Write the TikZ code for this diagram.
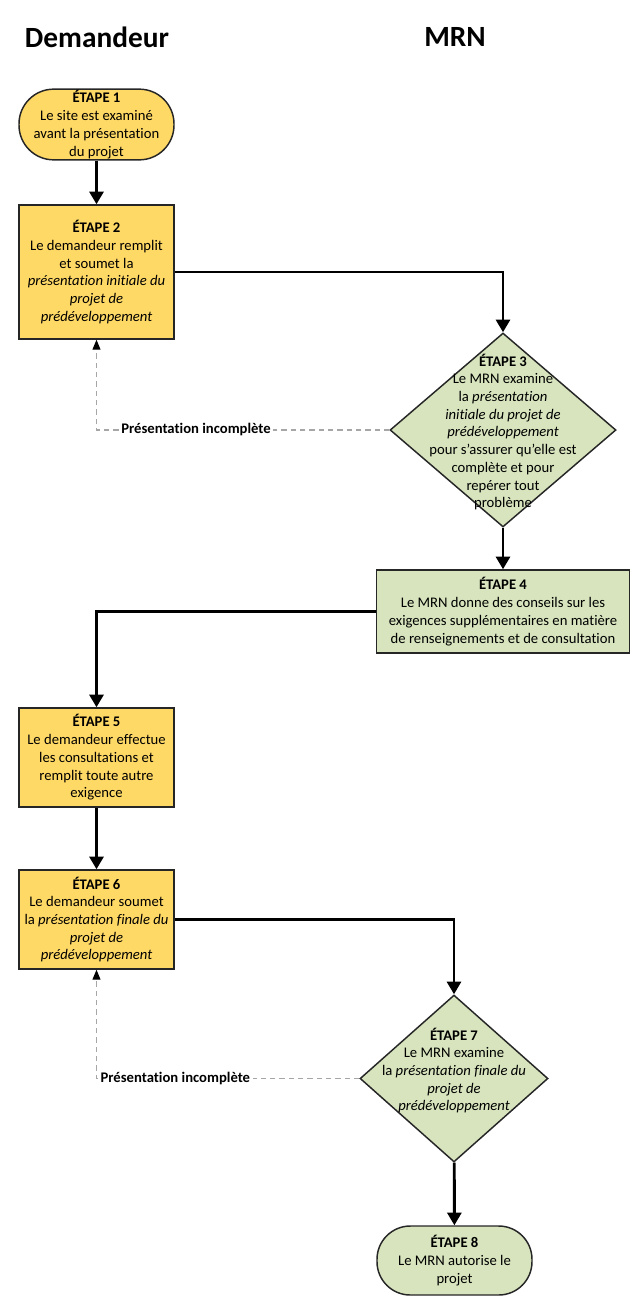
\documentclass[tikz,border=0pt]{standalone}
\usepackage{fontspec}
\setmainfont{Carlito}[Ligatures=NoCommon]
\usetikzlibrary{calc,positioning,shapes.geometric,arrows.meta}

\begin{document}
\begin{tikzpicture}[
            x=0.75pt,y=-0.75pt,
            node distance=3mm,
            txt/.style={font=\fontsize{11}{13.3}\selectfont,align=center,inner sep=1pt},
            stepbox/.style={txt,draw=black!85,line width=1.1pt,minimum width=116.25pt},
            flow/.style={line width=2.2pt,-{Triangle[width=10.5pt,length=9.5pt]}},
            retour/.style={draw=black!35,line width=0.8pt,dash pattern=on 4pt off 3pt,-{Triangle[width=6pt,length=7.5pt,color=black]}},
            incomp/.style={txt,font=\fontsize{11}{13.3}\selectfont\bfseries,fill=white,inner sep=2pt}
        ]
            \definecolor{jnx}{HTML}{FFD966}
            \definecolor{vrx}{HTML}{D7E4BD}

            \useasboundingbox (0,0) rectangle (640,1306);

            \node (hd) at (97,37)  [font=\fontsize{22}{26}\selectfont\bfseries] {Demandeur};
            \node (hm) at (455,37) [font=\fontsize{22}{26}\selectfont\bfseries] {MRN};

            \begin{scope}[every node/.append style={fill=jnx}]
                \node (s1) at (96.5,124.5) [stepbox,minimum height=52.5pt,rounded corners=26pt]
                    {\textbf{ÉTAPE 1}\\Le site est examiné\\avant la présentation\\du projet};
                \node (s2) at (96.5,272) [stepbox,minimum height=100.5pt]
                    {\textbf{ÉTAPE 2}\\Le demandeur remplit\\et soumet la\\\textit{présentation initiale du}\\\textit{projet de}\\\textit{prédéveloppement}};
                \node (s5) at (96.5,757.5) [stepbox,minimum height=74.25pt]
                    {\textbf{ÉTAPE 5}\\Le demandeur effectue\\les consultations et\\remplit toute autre\\exigence};
                \node (s6) at (96.5,919.5) [stepbox,minimum height=74.25pt]
                    {\textbf{ÉTAPE 6}\\Le demandeur soumet\\la \textit{présentation finale du}\\\textit{projet de}\\\textit{prédéveloppement}};
            \end{scope}

            \begin{scope}[every node/.append style={fill=vrx}]
                \node (s3) at (503,430) [diamond,draw=black!85,line width=1.1pt,inner sep=0pt,minimum width=169.5pt,minimum height=145.5pt] {};
                \node (s4) at (503,611.5) [stepbox,minimum width=189.75pt,minimum height=62.25pt]
                    {\textbf{ÉTAPE 4}\\Le MRN donne des conseils sur les\\exigences supplémentaires en matière\\de renseignements et de consultation};
                \node (s7) at (454,1078.5) [diamond,draw=black!85,line width=1.1pt,inner sep=0pt,minimum width=141pt,minimum height=125.25pt] {};
                \node (s8) at (454.5,1260.5) [stepbox,minimum height=51.75pt,rounded corners=25pt]
                    {\textbf{ÉTAPE 8}\\Le MRN autorise le\\projet};
            \end{scope}
            \node (t3) at ($(s3)+(0,2)$) [txt]
                {\textbf{ÉTAPE 3}\\Le MRN examine\\la \textit{présentation}\\\textit{initiale du projet de}\\\textit{prédéveloppement}\\pour s’assurer qu’elle est\\complète et pour\\repérer tout\\problème};
            \node (t7) at ($(s7)+(0,-8)$) [txt]
                {\textbf{ÉTAPE 7}\\Le MRN examine\\la \textit{présentation finale du}\\\textit{projet de}\\\textit{prédéveloppement}};

            \draw [flow] (s1) -- (s2);
            \draw [flow] (s2.east) -| (s3.north);
            \draw [flow] (s3) -- (s4);
            \draw [flow] (s4.west) -| (s5.north);
            \draw [flow] (s5) -- (s6);
            \draw [flow] (s6.east) -| (s7.north);
            \draw [flow] (s7) -- (s8);

            \draw [retour] (s3.west) -- node[incomp,pos=0.66] {Présentation incomplète} (s3.west -| s2) -- (s2.south);
            \draw [retour] (s7.west) -- node[incomp,pos=0.70] {Présentation incomplète} (s7.west -| s6) -- (s6.south);
        \end{tikzpicture}
\end{document}
